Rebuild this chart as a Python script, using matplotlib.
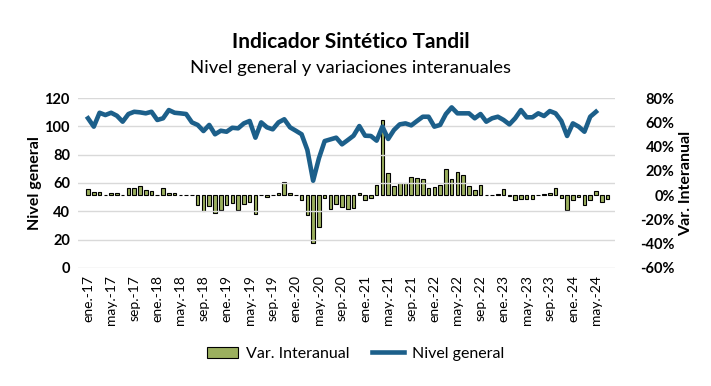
"""
Indicador Sintetico Tandil - nivel general y variacion interanual
"""
import numpy as np
import matplotlib
matplotlib.use('Agg')
import matplotlib.pyplot as plt
from matplotlib.patches import Patch
from matplotlib.lines import Line2D

plt.rcParams['font.family'] = ['Lato', 'DejaVu Sans']

# Monthly series, ene-17 .. jul-24 (bars) ; line ends at may-24
var_interanual = [
    5, 2.5, 2.5, 0.3, 2, 2, 0.3, 5.5, 5.5, 7.5, 4, 3,          # 2017
    -0.3, 5.5, 2, 1.5, 0.3, 0.3, -0.3, -8, -13.5, -9, -14.5, -12,  # 2018
    -8, -6.5, -12.3, -7, -6, -15.5, 0.3, -1.5, 0.3, 1.6, 10.7, 1.4,  # 2019
    0.3, -4, -16.8, -39.5, -26.4, -2.5, -11.5, -7.4, -10, -11.5, -10.7, 1.6,  # 2020
    -4, -2.5, 8.5, 62, 18, 7.4, 9.9, 9.9, 14.8, 14, 13.2, 5.8,  # 2021
    6.8, 8.2, 21.4, 13.2, 19, 16.2, 7.4, 4, 8.2, 0.3, 0.3, 0.5,  # 2022
    5, -0.5, -3.8, -3, -3, -3, 0.3, 0.5, 1.4, 5.8, -2.5, -12.4,  # 2023
    -3.8, -1.6, -8.2, -3.8, 3.3, -5.8, -3.3,                   # 2024
]

nivel_general = [
    105.7, 99.8, 109.6, 108, 109.6, 107.5, 103.3, 108.7, 110.3, 109.9, 109.2, 110.3,
    104.5, 105.7, 111.5, 109.6, 109.2, 108.7, 102.8, 101, 96.7, 101, 94.4, 96.9,
    96.2, 99, 98.6, 102.1, 103.8, 92, 102.8, 99.3, 97.9, 102.8, 105, 99.3,
    96.9, 94.4, 83.3, 61.6, 77.4, 89.6, 90.8, 92, 87.3, 90.3, 93.4, 100.2,
    93.4, 93.2, 89.9, 99.8, 91.1, 97.4, 101.4, 102.1, 100.7, 103.8, 106.8, 106.8,
    99.8, 101, 108.7, 113.4, 109.2, 109.2, 109.2, 105.7, 108.7, 103.3, 105.7, 106.8,
    104.5, 101.4, 105.7, 111.5, 106.4, 106.4, 109.2, 107.3, 110.8, 109.2, 103.8, 93.2,
    102.1, 99.8, 96.2, 106.8, 110.3,
]

tick_labels = ['ene.-17', 'may.-17', 'sep.-17', 'ene.-18', 'may.-18', 'sep.-18',
               'ene.-19', 'may.-19', 'sep.-19', 'ene.-20', 'may.-20', 'sep.-20',
               'ene.-21', 'may.-21', 'sep.-21', 'ene.-22', 'may.-22', 'sep.-22',
               'ene.-23', 'may.-23', 'sep.-23', 'ene.-24', 'may.-24']

left_ticks = [0, 20, 40, 60, 80, 100, 120]
right_ticks = [-60, -40, -20, 0, 20, 40, 60, 80]

bar_color = '#9BAF5E'
line_color = '#1C5F8A'

fig = plt.figure(figsize=(7.11, 3.86), dpi=100)
ax = fig.add_axes([0.110, 0.306, 0.755, 0.440])
ax2 = ax.twinx()

x_bar = np.arange(len(var_interanual))
x_line = np.arange(len(nivel_general))

ax2.bar(x_bar, var_interanual, width=0.62, color=bar_color,
        edgecolor='black', linewidth=0.8)
ax.plot(x_line, nivel_general, color=line_color, linewidth=3.3,
        solid_joinstyle='round')

# line above bars
ax.set_zorder(ax2.get_zorder() + 1)
ax.patch.set_visible(False)

ax.set_ylim(0, 120)
ax.set_yticks(left_ticks)
ax.set_yticklabels([str(t) for t in left_ticks], fontweight='bold', fontsize=10.5)
ax2.set_ylim(-60, 80)
ax2.set_yticks(right_ticks)
ax2.set_yticklabels([f'{t}%' for t in right_ticks], fontweight='bold',
                    fontsize=10.5, ha='right')

ax.set_xlim(-1.7, 91.3)
ax.set_xticks(np.arange(0, 4 * len(tick_labels), 4))
ax.set_xticklabels(tick_labels, rotation=90, fontsize=10)

ax.yaxis.grid(True, color='#D9D9D9', linewidth=1)
ax.set_axisbelow(True)

for a in (ax, ax2):
    for s in a.spines.values():
        s.set_visible(False)
    a.tick_params(length=0)
ax.tick_params(axis='y', pad=6)
ax2.tick_params(axis='y', pad=43)
ax.tick_params(axis='x', pad=5)

ax.set_ylabel('Nivel general', fontweight='bold', fontsize=11.5, labelpad=2)
ax2.set_ylabel('Var. Interanual', fontweight='bold', fontsize=11.5, labelpad=3)

fig.text(0.493, 0.890, 'Indicador Sintético Tandil', ha='center', va='center',
         fontsize=15, fontweight='bold')
fig.text(0.493, 0.823, 'Nivel general y variaciones interanuales', ha='center',
         va='center', fontsize=13.3)

handles = [Patch(facecolor=bar_color, edgecolor='black', linewidth=0.8),
           Line2D([0], [0], color=line_color, linewidth=3.3)]
fig.legend(handles, ['Var. Interanual', 'Nivel general'], loc='center',
           bbox_to_anchor=(0.5, 0.083), ncol=2, frameon=False, fontsize=11.5,
           handlelength=2.0, columnspacing=1.4, handletextpad=0.5)

plt.savefig('out.png', dpi=100)
